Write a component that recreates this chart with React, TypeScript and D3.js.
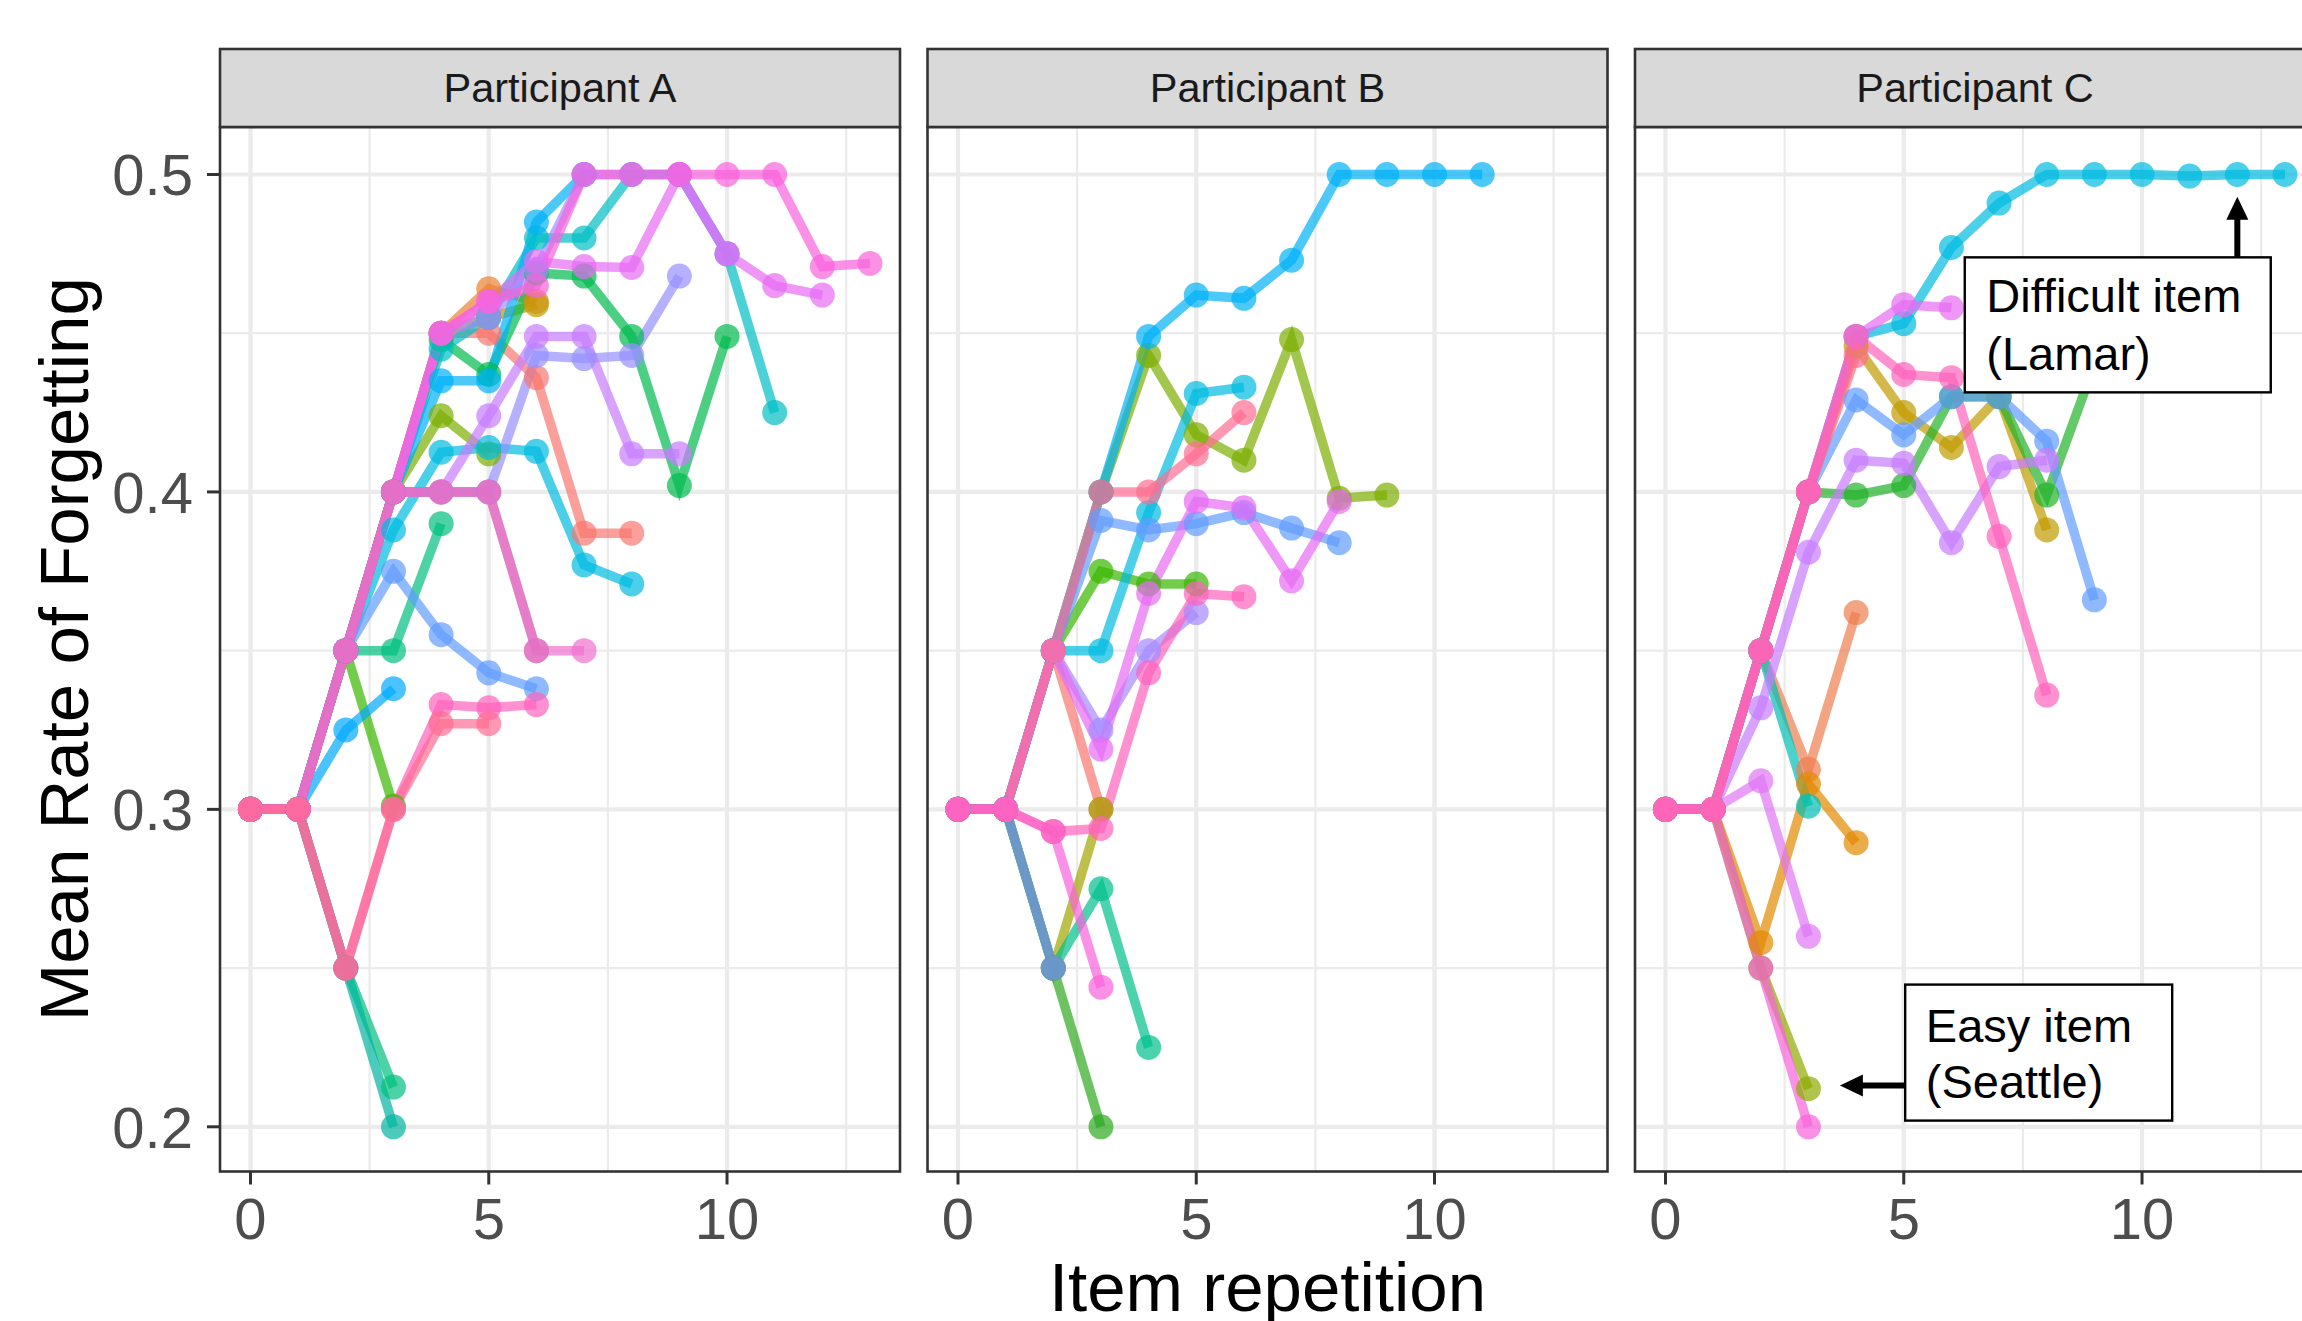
import React from "react";
import * as d3 from "d3";

const W = 2302;
const H = 1321;

const panelTitles = ["Participant A", "Participant B", "Participant C"];
const xTicks = [0, 5, 10];
const xMinor = [2.5, 7.5, 12.5];
const yTicks = [0.2, 0.3, 0.4, 0.5];
const yMinor = [0.25, 0.35, 0.45];
const xTitle = "Item repetition";
const yTitle = "Mean Rate of Forgetting";

// Participant A: mean rate of forgetting per repetition (index = repetition)
const panelA: number[][] = [
  [0.3, 0.3, 0.25],
  [0.3, 0.3, 0.35, 0.4, 0.45, 0.45, 0.436, 0.387, 0.387],
  [0.3, 0.3, 0.35, 0.4, 0.45, 0.464, 0.46],
  [0.3, 0.3, 0.35, 0.4, 0.45, 0.455, 0.459],
  [0.3, 0.3, 0.35, 0.4, 0.424, 0.412],
  [0.3, 0.3, 0.35, 0.301],
  [0.3, 0.3, 0.35, 0.4, 0.448, 0.437, 0.469, 0.468, 0.449, 0.402, 0.449],
  [0.3, 0.3, 0.35, 0.35, 0.39],
  [0.3, 0.3, 0.25, 0.2125],
  [0.3, 0.3, 0.25, 0.2],
  [0.3, 0.3, 0.35, 0.4, 0.445, 0.455, 0.48, 0.48, 0.5, 0.5, 0.475, 0.425],
  [0.3, 0.3, 0.35, 0.388, 0.4125, 0.414, 0.4128, 0.377, 0.371],
  [0.3, 0.3, 0.35, 0.4, 0.435, 0.435, 0.485, 0.5],
  [0.3, 0.3, 0.325, 0.338],
  [0.3, 0.3, 0.35, 0.375, 0.355, 0.343, 0.338],
  [0.3, 0.3, 0.35, 0.4, 0.4, 0.4, 0.443, 0.442, 0.443, 0.468],
  [0.3, 0.3, 0.35, 0.4, 0.45, 0.455, 0.47, 0.5, 0.5, 0.5, 0.475],
  [0.3, 0.3, 0.35, 0.4, 0.4, 0.424, 0.449, 0.449, 0.412, 0.412],
  [0.3, 0.3, 0.35, 0.4, 0.45, 0.46, 0.4726, 0.471, 0.4707, 0.5, 0.475, 0.465, 0.462],
  [0.3, 0.3, 0.35, 0.4, 0.45, 0.46, 0.465, 0.5, 0.5, 0.5, 0.5, 0.5, 0.471, 0.472],
  [0.3, 0.3, 0.35, 0.4, 0.4, 0.4, 0.35],
  [0.3, 0.3, 0.35, 0.4, 0.4, 0.4, 0.35, 0.35],
  [0.3, 0.3, 0.25, 0.3, 0.333, 0.332, 0.333],
  [0.3, 0.3, 0.25, 0.3, 0.327, 0.327],
];
const colorsA = [
  "#9590FF", "#F8766D", "#EA8331", "#C09B00", "#7CAE00", "#39B600", "#00BB4E", "#00BF7D",
  "#00BF7D", "#00B5A0", "#00BFC4", "#00BAE0", "#00B0F6", "#00A9FF", "#619CFF", "#9590FF",
  "#A58AFF", "#C77CFF", "#E76BF3", "#FA62DB", "#B8709A", "#F070D0", "#FF62BC", "#FF6C91",
];

// Participant B
const panelB: number[][] = [
  [0.3, 0.3, 0.35, 0.3],
  [0.3, 0.3, 0.25, 0.3],
  [0.3, 0.3, 0.35, 0.4, 0.443, 0.418, 0.41, 0.448, 0.398, 0.399],
  [0.3, 0.3, 0.35, 0.375, 0.371, 0.371],
  [0.3, 0.3, 0.25, 0.2],
  [0.3, 0.3, 0.25, 0.275, 0.225],
  [0.3, 0.3, 0.25],
  [0.3, 0.3, 0.35, 0.35, 0.3935, 0.431, 0.433],
  [0.3, 0.3, 0.35, 0.4, 0.449, 0.462, 0.461, 0.473, 0.5, 0.5, 0.5, 0.5],
  [0.3, 0.3, 0.35, 0.391, 0.388, 0.39, 0.3935, 0.3886, 0.384],
  [0.3, 0.3, 0.35, 0.325, 0.35, 0.362],
  [0.3, 0.3, 0.35, 0.319, 0.368, 0.397, 0.395, 0.372, 0.397],
  [0.3, 0.3, 0.35, 0.4, 0.4, 0.412, 0.425],
  [0.3, 0.3, 0.293, 0.244],
  [0.3, 0.3, 0.293, 0.294, 0.343, 0.368, 0.367],
];
const colorsB = [
  "#F8766D", "#A3A500", "#7CAE00", "#39B600", "#2FAA1F", "#00C08B", "#8F88F0", "#00BAE0",
  "#00B0F6", "#619CFF", "#A58AFF", "#E76BF3", "#FF6C91", "#FA62DB", "#FF62BC",
];

// Participant C
const panelC: number[][] = [
  [0.3, 0.3, 0.35, 0.3126, 0.362],
  [0.3, 0.3, 0.258, 0.308, 0.2895],
  [0.3, 0.3, 0.35, 0.4, 0.446, 0.425, 0.414, 0.43, 0.388],
  [0.3, 0.3, 0.25, 0.212],
  [0.3, 0.3, 0.35, 0.4, 0.399, 0.402, 0.43, 0.43, 0.399, 0.44],
  [0.3, 0.3, 0.35, 0.301],
  [0.3, 0.3, 0.35, 0.4, 0.449, 0.453, 0.477, 0.491, 0.5, 0.5, 0.5, 0.4995, 0.5, 0.5],
  [0.3, 0.3, 0.35, 0.4, 0.429, 0.418, 0.43, 0.43, 0.416, 0.366],
  [0.3, 0.3, 0.332, 0.381, 0.41, 0.409, 0.384, 0.408, 0.41],
  [0.3, 0.3, 0.309, 0.26],
  [0.3, 0.3, 0.35, 0.4, 0.449, 0.459, 0.458],
  [0.3, 0.3, 0.25, 0.2],
  [0.3, 0.3, 0.35, 0.4, 0.443],
  [0.3, 0.3, 0.35, 0.4, 0.449, 0.437, 0.436, 0.386, 0.336],
];
const colorsC = [
  "#EE7F4F", "#E38900", "#C09B00", "#8EAB00", "#22B22A", "#00BFB4", "#00BAE0", "#619CFF",
  "#C77CFF", "#E076F5", "#E76BF3", "#FA62DB", "#FF6C91", "#FF62BC",
];

const panels = [panelA, panelB, panelC];
const panelColors = [colorsA, colorsB, colorsC];

// Annotations (panel C), positioned in data coordinates
const annDifficult = { lines: ["Difficult item", "(Lamar)"], boxX: 6.28, boxY: 0.4739, arrowX: 12, arrowTipY: 0.493 };
const annEasy = { lines: ["Easy item", "(Seattle)"], boxX: 5.03, boxY: 0.2448, arrowY: 0.213, arrowTipX: 3.66 };

const FONT = "'Liberation Sans', Arial, Helvetica, sans-serif";
const PANEL_W = 680;
const PANEL_STEP = 707.5;
const PANEL_LEFT0 = 220;
const STRIP_TOP = 49;
const PLOT_TOP = 127;
const PLOT_BOTTOM = 1171.5;

export default function App() {
  const y = d3.scaleLinear().domain([0.5, 0.2]).range([174.5, 1126.8]);
  const xScales = panels.map((_, i) => {
    const left = PANEL_LEFT0 + i * PANEL_STEP;
    return d3.scaleLinear().domain([-0.64, 13.63]).range([left, left + PANEL_W]);
  });

  return (
    <div style={{ position: "fixed", left: 0, top: 0, width: W, height: H, background: "#fff" }}>
      <svg width={W} height={H} style={{ display: "block", fontFamily: FONT }}>
        <rect x={0} y={0} width={W} height={H} fill="#fff" />
        {panels.map((series, pi) => {
          const x = xScales[pi];
          const left = x.range()[0];
          const line = d3
            .line<number>()
            .x((_, i) => x(i))
            .y((d) => y(d));
          const colors = panelColors[pi];
          return (
            <g key={pi}>
              {yMinor.map((t) => (
                <line key={"ym" + t} x1={left} x2={left + PANEL_W} y1={y(t)} y2={y(t)} stroke="#EBEBEB" strokeWidth={2.2} />
              ))}
              {xMinor.map((t) => (
                <line key={"xm" + t} x1={x(t)} x2={x(t)} y1={PLOT_TOP} y2={PLOT_BOTTOM} stroke="#EBEBEB" strokeWidth={2.2} />
              ))}
              {yTicks.map((t) => (
                <line key={"yM" + t} x1={left} x2={left + PANEL_W} y1={y(t)} y2={y(t)} stroke="#EBEBEB" strokeWidth={4.2} />
              ))}
              {xTicks.map((t) => (
                <line key={"xM" + t} x1={x(t)} x2={x(t)} y1={PLOT_TOP} y2={PLOT_BOTTOM} stroke="#EBEBEB" strokeWidth={4.2} />
              ))}
              {series.map((s, si) => (
                <path
                  key={"l" + si}
                  d={line(s) || ""}
                  fill="none"
                  stroke={colors[si]}
                  strokeOpacity={0.7}
                  strokeWidth={9.5}
                  strokeLinejoin="miter"
                  strokeLinecap="butt"
                />
              ))}
              {series.map((s, si) =>
                s.map((v, k) => (
                  <circle key={"p" + si + "-" + k} cx={x(k)} cy={y(v)} r={12.5} fill={colors[si]} fillOpacity={0.7} />
                ))
              )}
              <rect x={left} y={PLOT_TOP} width={PANEL_W} height={PLOT_BOTTOM - PLOT_TOP} fill="none" stroke="#333333" strokeWidth={2.6} />
              <rect x={left} y={STRIP_TOP} width={PANEL_W} height={PLOT_TOP - STRIP_TOP} fill="#D9D9D9" stroke="#333333" strokeWidth={2.6} />
              <text x={left + PANEL_W / 2} y={102} textAnchor="middle" fontSize={41.5} fill="#1A1A1A">
                {panelTitles[pi]}
              </text>
              {xTicks.map((t) => (
                <g key={"xt" + t}>
                  <line x1={x(t)} x2={x(t)} y1={PLOT_BOTTOM} y2={PLOT_BOTTOM + 13} stroke="#333333" strokeWidth={3} />
                  <text x={x(t)} y={1239} textAnchor="middle" fontSize={58} fill="#4D4D4D">
                    {t}
                  </text>
                </g>
              ))}
            </g>
          );
        })}

        {yTicks.map((t) => (
          <g key={"yt" + t}>
            <line x1={PANEL_LEFT0 - 13} x2={PANEL_LEFT0} y1={y(t)} y2={y(t)} stroke="#333333" strokeWidth={3} />
            <text x={193} y={y(t)} dy="0.36em" textAnchor="end" fontSize={58} fill="#4D4D4D">
              {t.toFixed(1)}
            </text>
          </g>
        ))}

        {(() => {
          const x = xScales[2];
          const bx = x(annDifficult.boxX);
          const by = y(annDifficult.boxY);
          const ax = x(annDifficult.arrowX);
          const tipY = y(annDifficult.arrowTipY);
          const ex = x(annEasy.boxX);
          const ey = y(annEasy.boxY);
          const ay = y(annEasy.arrowY);
          const tipX = x(annEasy.arrowTipX);
          return (
            <g>
              <line x1={ax} x2={ax} y1={by} y2={tipY + 18} stroke="#000" strokeWidth={6} />
              <polygon points={`${ax},${tipY} ${ax - 11},${tipY + 23} ${ax + 11},${tipY + 23}`} fill="#000" />
              <rect x={bx} y={by} width={306} height={135} fill="#fff" stroke="#000" strokeWidth={2.4} />
              <text x={bx + 21.5} y={by + 55} fontSize={47} fill="#000">{annDifficult.lines[0]}</text>
              <text x={bx + 21.5} y={by + 112.5} fontSize={47} fill="#000">{annDifficult.lines[1]}</text>

              <line x1={ex} x2={tipX + 18} y1={ay} y2={ay} stroke="#000" strokeWidth={6} />
              <polygon points={`${tipX},${ay} ${tipX + 23},${ay - 11} ${tipX + 23},${ay + 11}`} fill="#000" />
              <rect x={ex} y={ey} width={267} height={136} fill="#fff" stroke="#000" strokeWidth={2.4} />
              <text x={ex + 20.6} y={ey + 57} fontSize={47} fill="#000">{annEasy.lines[0]}</text>
              <text x={ex + 20.6} y={ey + 113} fontSize={47} fill="#000">{annEasy.lines[1]}</text>
            </g>
          );
        })()}

        <text x={(PANEL_LEFT0 + PANEL_LEFT0 + 2 * PANEL_STEP + PANEL_W) / 2} y={1311} textAnchor="middle" fontSize={69} fill="#000">
          {xTitle}
        </text>
        <text transform={`translate(88, ${(PLOT_TOP + PLOT_BOTTOM) / 2}) rotate(-90)`} textAnchor="middle" fontSize={69} fill="#000">
          {yTitle}
        </text>
      </svg>
    </div>
  );
}
